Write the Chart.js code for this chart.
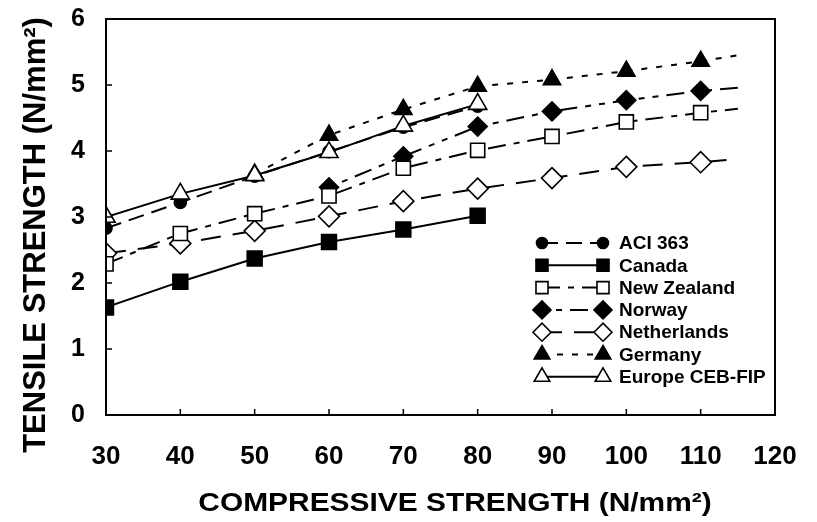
<!DOCTYPE html>
<html>
<head>
<meta charset="utf-8">
<script src="https://cdn.jsdelivr.net/npm/chart.js@4.4.1/dist/chart.umd.min.js"></script>
<style>
  html, body { margin: 0; padding: 0; background: #fff; }
  #wrap { width: 817px; height: 522px; position: relative; }
</style>
</head>
<body>
<div id="wrap"><canvas id="chart"></canvas></div>
<script>
// compressive strength (N/mm2); the last x is only where the dashed curves stop
const compressive = [30, 40, 50, 60, 70, 80, 90, 100, 110, 115];
const tailX = 115;

// tensile strength (N/mm2) per code
const aci363      = [2.83, 3.22, 3.62, 3.99, 4.36, 4.68, null, null, null, null];
const canada      = [1.63, 2.02, 2.37, 2.62, 2.81, 3.02, null, null, null, null];
const newZealand  = [2.29, 2.75, 3.05, 3.32, 3.74, 4.01, 4.22, 4.44, 4.58, 4.64];
const norway      = [null, null, null, 3.45, 3.92, 4.37, 4.60, 4.77, 4.91, 4.96];
const netherlands = [2.45, 2.60, 2.79, 3.01, 3.24, 3.43, 3.59, 3.76, 3.83, 3.88];
const germany     = [null, null, 3.65, 4.24, 4.63, 4.98, 5.08, 5.21, 5.36, 5.45];
const europeCEB   = [3.00, 3.35, 3.63, 3.98, 4.38, 4.71, null, null, null, null];

const xTicks = [30, 40, 50, 60, 70, 80, 90, 100, 110, 120];
const yTicks = [0, 1, 2, 3, 4, 5, 6];

const FONT = 'Liberation Sans, Arial, Helvetica, sans-serif';

const toPoints = (values) => compressive
    .map((x, i) => ({ x, y: values[i] }))
    .filter((p) => p.y !== null);

const makeSeries = (label, values, style) => ({
    label,
    data: toPoints(values),
    borderColor: '#000',
    borderWidth: 2,
    borderDash: style.dash,
    fill: false,
    tension: 0,
    pointStyle: style.point,
    pointRadius: (ctx) => (ctx.raw && ctx.raw.x === tailX ? 0 : style.radius),
    pointHoverRadius: (ctx) => (ctx.raw && ctx.raw.x === tailX ? 0 : style.radius),
    pointBackgroundColor: style.open ? '#fff' : '#000',
    pointBorderColor: '#000',
    pointBorderWidth: 1.6,
    order: style.order,
});

const series = [
    makeSeries('ACI 363', aci363, { point: 'circle', radius: 6, open: false, dash: [16, 8], order: 7 }),
    makeSeries('Canada', canada, { point: 'rect', radius: 10.5, open: false, dash: [], order: 4 }),
    makeSeries('New Zealand', newZealand, { point: 'rect', radius: 10, open: true, dash: [18, 8, 6, 8], order: 2 }),
    makeSeries('Norway', norway, { point: 'rectRot', radius: 9.5, open: false, dash: [6, 8, 6, 8, 18, 8], order: 6 }),
    makeSeries('Netherlands', netherlands, { point: 'rectRot', radius: 10.5, open: true, dash: [20, 12], order: 3 }),
    makeSeries('Germany', germany, { point: 'triangle', radius: 10, open: false, dash: [6, 9], order: 5 }),
    makeSeries('Europe CEB-FIP', europeCEB, { point: 'triangle', radius: 10.5, open: true, dash: [], order: 1 }),
];

// frame, inward ticks, axis titles and the marker-line-marker legend
const decorPlugin = {
    id: 'decor',
    afterDraw(chart) {
        const { ctx, chartArea: a, scales } = chart;
        ctx.save();
        ctx.strokeStyle = '#000';
        ctx.lineWidth = 2;
        ctx.setLineDash([]);
        ctx.strokeRect(a.left, a.top, a.right - a.left, a.bottom - a.top);

        ctx.lineWidth = 1.5;
        ctx.beginPath();
        yTicks.forEach((v) => {
            const y = scales.y.getPixelForValue(v);
            ctx.moveTo(a.left, y);
            ctx.lineTo(a.left + 6, y);
        });
        xTicks.forEach((v) => {
            const x = scales.x.getPixelForValue(v);
            ctx.moveTo(x, a.bottom);
            ctx.lineTo(x, a.bottom - 6);
        });
        ctx.stroke();

        ctx.fillStyle = '#000';
        ctx.textAlign = 'center';
        ctx.textBaseline = 'middle';
        ctx.save();
        ctx.translate(455, 504);
        ctx.scale(1.15, 1);
        ctx.font = `bold 26px ${FONT}`;
        ctx.fillText('COMPRESSIVE STRENGTH (N/mm²)', 0, 0);
        ctx.restore();
        ctx.save();
        ctx.translate(36, 235);
        ctx.rotate(-Math.PI / 2);
        ctx.font = `bold 31px ${FONT}`;
        ctx.fillText('TENSILE STRENGTH (N/mm²)', 0, 0);
        ctx.restore();

        // legend
        const x1 = 542;
        const x2 = 603;
        const textX = 619;
        const top = 243;
        const step = 22.3;
        ctx.font = `bold 19px ${FONT}`;
        ctx.textAlign = 'left';
        series.forEach((ds, i) => {
            const y = top + i * step;
            ctx.lineWidth = 2;
            ctx.strokeStyle = '#000';
            ctx.setLineDash(ds.borderDash);
            ctx.beginPath();
            ctx.moveTo(x1, y);
            ctx.lineTo(x2, y);
            ctx.stroke();
            ctx.setLineDash([]);
            const r = ds.pointStyle === 'circle' ? 5.5 : ds.pointStyle === 'rect' ? 8.5 : 9;
            const opts = { pointStyle: ds.pointStyle, radius: r, rotation: 0, borderWidth: 1.6 };
            ctx.fillStyle = ds.pointBackgroundColor;
            ctx.lineWidth = 1.6;
            Chart.helpers.drawPoint(ctx, opts, x1, y);
            ctx.fillStyle = ds.pointBackgroundColor;
            Chart.helpers.drawPoint(ctx, opts, x2, y);
            ctx.fillStyle = '#000';
            ctx.fillText(ds.label, textX, y + 1);
        });
        ctx.restore();
    },
};

new Chart(document.getElementById('chart'), {
    type: 'line',
    data: { datasets: series },
    options: {
        responsive: true,
        maintainAspectRatio: false,
        animation: false,
        events: [],
        layout: { padding: { top: 19, right: 42, left: 0, bottom: 0 } },
        plugins: {
            legend: { display: false },
            tooltip: { enabled: false },
        },
        scales: {
            x: {
                type: 'linear',
                min: 30,
                max: 120,
                afterFit: (scale) => {
                    scale.height = 107;
                    scale.paddingLeft = 0;
                    scale.paddingRight = 0;
                },
                afterBuildTicks: (scale) => { scale.ticks = xTicks.map((value) => ({ value })); },
                grid: { display: false, drawTicks: false },
                border: { display: false },
                ticks: {
                    padding: 26,
                    color: '#000',
                    font: { family: FONT, size: 26, weight: 'bold' },
                    maxRotation: 0,
                },
            },
            y: {
                type: 'linear',
                min: 0,
                max: 6,
                afterFit: (scale) => {
                    scale.width = 106;
                    scale.paddingTop = 0;
                    scale.paddingBottom = 0;
                },
                afterBuildTicks: (scale) => { scale.ticks = yTicks.map((value) => ({ value })); },
                grid: { display: false, drawTicks: false },
                border: { display: false },
                ticks: {
                    padding: 21,
                    color: '#000',
                    font: { family: FONT, size: 25, weight: 'bold' },
                },
            },
        },
    },
    plugins: [decorPlugin],
});
</script>
</body>
</html>
